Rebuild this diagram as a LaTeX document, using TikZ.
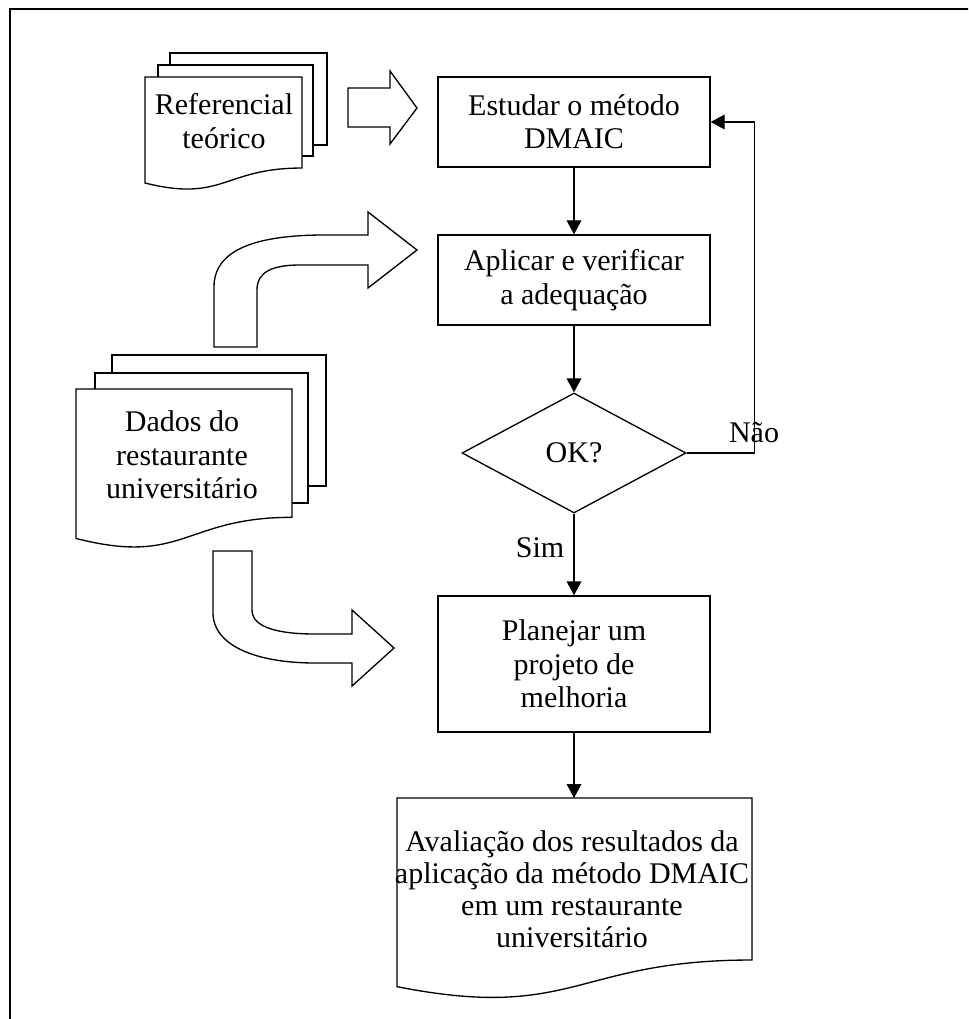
\documentclass[tikz,border=0pt]{standalone}
\usepackage{fontspec}
\setmainfont{Liberation Serif}
\usetikzlibrary{arrows.meta,shapes.geometric}

% Flowchart "document" outline: style, left, top, width, height
\newcommand{\docshape}[5]{%
  \draw[#1] (#2,#3) -- ({#2+#4},#3) -- ({#2+#4},{#3+0.802*#5})
    .. controls ({#2+0.5*#4},{#3+0.802*#5}) and ({#2+0.5*#4},{#3+1.107*#5})
    .. (#2,{#3+0.934*#5}) -- cycle;}

\begin{document}
\begin{tikzpicture}[x=0.75pt,y=-0.75pt,
  every node/.style={font=\fontsize{22.5pt}{25pt}\selectfont},
  line/.style={line width=1pt},
  procbox/.style={draw,line width=1pt,rectangle,align=center,inner sep=0pt},
  decision/.style={draw,line width=1pt,diamond,aspect=1.87,inner sep=0pt,
    minimum width=168pt,minimum height=90pt},
  flow/.style={line width=1pt,-{Triangle[length=10.5pt,width=11pt]}},
  blockarrow/.style={line width=1pt,fill=white,line join=miter},
  page/.style={line width=1pt,fill=white},
  doctext/.style={align=center,inner sep=0pt},
  edgelabel/.style={inner sep=0pt}]
\useasboundingbox (0,0) rectangle (968,1019);
\clip (0,0) rectangle (968,1019);

% outer frame
\draw[line width=1.6pt] (10,9) rectangle (990,1040);

% process steps
\node[procbox,minimum width=204pt,minimum height=67.5pt] (s1) at (574,122)
  {Estudar o método\\DMAIC};
\node[procbox,minimum width=204pt,minimum height=67.5pt] (s2) at (574,280)
  {Aplicar e verificar\\a adequação};
\node[decision] (ok) at (574,453) {OK?};
\node[procbox,minimum width=204pt,minimum height=102pt] (s3) at (574,664)
  {Planejar um\\projeto de\\melhoria};

% result document
\docshape{page}{397}{798}{355}{202}
\coordinate (evaltop) at (574,798);
\node[doctext,font=\fontsize{22.5pt}{24pt}\selectfont] (evaltext) at (572,889)
  {Avaliação dos resultados da\\aplicação da método DMAIC\\em um restaurante\\universitário};

% theoretical reference stack
\draw[line] (170,65) -- (170,53) -- (327,53) -- (327,145) -- (313,145);
\draw[line] (158,77) -- (158,65) -- (313,65) -- (313,156) -- (302,156);
\docshape{page}{145}{77}{157}{113.5}
\node[doctext] (reftext) at (224,121) {Referencial\\teórico};

% restaurant data stack
\draw[line] (112,373) -- (112,355) -- (326,355) -- (326,486) -- (308,486);
\draw[line] (95,389) -- (95,373) -- (308,373) -- (308,503) -- (292,503);
\docshape{page}{76}{389}{216}{160}
\node[doctext] (datatext) at (182,455) {Dados do\\restaurante\\universitário};

% block arrows
\draw[blockarrow] (348,88) -- (390,88) -- (390,71) -- (417,108) -- (390,144)
  -- (390,127) -- (348,127) -- cycle;
\draw[blockarrow] (214,347) -- (214,287) .. controls (214,250) and (255,235) .. (325,235)
  -- (368,235) -- (368,212) -- (417,250) -- (368,288) -- (368,265) -- (300,265)
  .. controls (272,265) and (257,272) .. (257,290) -- (257,347) -- cycle;
\draw[blockarrow] (213,551) -- (252,551) -- (252,610) .. controls (252,628) and (280,634) .. (315,634)
  -- (352,634) -- (352,610) -- (394,648) -- (352,686) -- (352,663) -- (315,663)
  .. controls (255,663) and (213,645) .. (213,613) -- cycle;

% connectors
\draw[flow] (s1) -- (s2);
\draw[flow] (s2) -- (ok);
\draw[flow] (ok) -- (s3);
\draw[flow] (s3) -- (evaltop);
\draw[flow] (ok.east) -- ++(68,0) |- (s1.east);

% labels
\node[edgelabel] (nolbl) at (754,433) {Não};
\node[edgelabel] (yeslbl) at (540,548) {Sim};
\end{tikzpicture}
\end{document}
